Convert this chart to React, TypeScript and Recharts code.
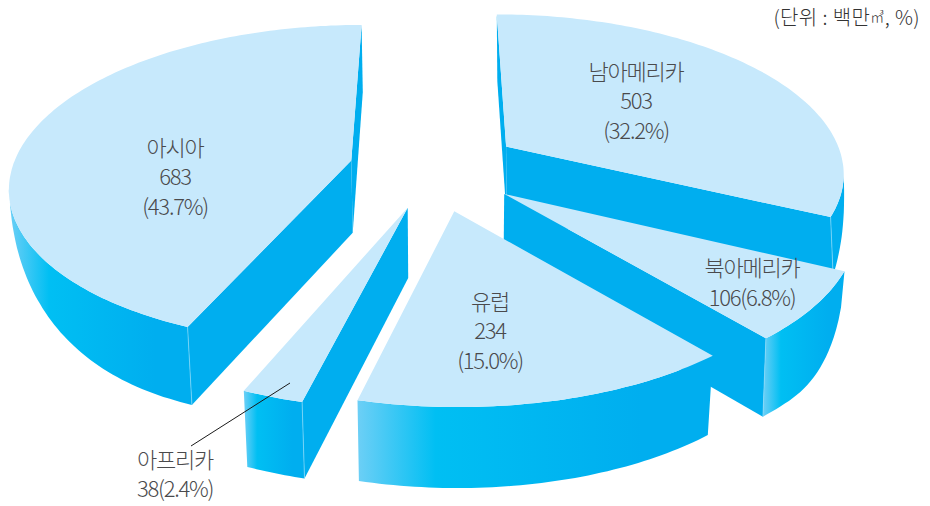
import React from "react";
import { PieChart, Pie } from "recharts";

const regions = ["남아메리카", "북아메리카", "유럽", "아프리카", "아시아"];
const volumes = [503, 106, 234, 38, 683];
const shares = ["32.2", "6.8", "15.0", "2.4", "43.7"];
const labelLines = [
  ["남아메리카", "503", "(32.2%)"],
  ["북아메리카", "106(6.8%)"],
  ["유럽", "234", "(15.0%)"],
  ["아프리카", "38(2.4%)"],
  ["아시아", "683", "(43.7%)"],
];

const data = regions.map((name, i) => ({ name, value: volumes[i], share: shares[i] }));

// text anchor (centre of first line) per slice
const LABEL_AT = [
  [636, 69.5],
  [752, 266],
  [490, 299.5],
  [175, 457.5],
  [175, 145.5],
];

// perspective of the tilted disc
const RADIUS = 339;
const SQUASH = 158 / RADIUS;
const TILT = 0.15;
const DEPTH_TILT = 0.08;

// per-slice tweaks, same order as regions
const EXPLODE = [0.26, 0.26, 0.27, 0.255, 0.24];
const DEPTH = [72.5, 72.5, 73, 69, 72.5];
const SQUEEZE_Y = [1, 1, 0.97, 1, 1];
const SHIFT_X = [0, 0, 0, 3, -2.5];
const BOTTOM_SHRINK = [-0.008, 0.009, 0.018, 0.018, 0.018];
// how far (px) the base curve takes to reach full depth from the outer edge
const TAPER = [65, 57, 0, 0, 180];

const TOP = "#C7E9FC";
const WALL = "#00AEEF";

type Pt = [number, number];

const toPath = (pts: Pt[]) =>
  "M" + pts.map((p) => `${p[0].toFixed(1)},${p[1].toFixed(1)}`).join("L") + "Z";

// eases from 0 at the outer edge to 1 with no corner at the far end
const easeDepth = (t: number) => (t >= 1 ? 1 : Math.pow(1 - Math.pow(1 - t, 3), 0.35));

// one exploded wedge: walls facing the viewer, then the top face
const Wedge = (props: any) => {
  const { cx, cy, outerRadius: r, startAngle, endAngle, index } = props;
  const rad = Math.PI / 180;
  const mid = ((startAngle + endAngle) / 2) * rad;
  const ox = EXPLODE[index] * Math.cos(mid);
  const oy = EXPLODE[index] * Math.sin(mid);
  const shift = SHIFT_X[index];

  const steps = Math.max(12, Math.round(Math.abs(endAngle - startAngle)));
  const plan: Pt[] = [];
  for (let i = 0; i <= steps; i++) {
    const a = (startAngle + ((endAngle - startAngle) * i) / steps) * rad;
    plan.push([ox + Math.cos(a), oy + SQUEEZE_Y[index] * Math.sin(a)]);
  }

  const up = (p: Pt): Pt => {
    const w = 1 + TILT * p[1];
    return [cx + shift + (r * p[0]) / w, cy - (r * SQUASH * p[1]) / w];
  };
  const rimTop = plan.map(up);
  const xs = rimTop.map((p) => p[0]);
  const outerX = Math.cos(mid) > 0 ? Math.max(...xs) : Math.min(...xs);

  const down = (p: Pt): Pt => {
    const [x, y] = up(p);
    const taper = TAPER[index] ? easeDepth(Math.abs(x - outerX) / TAPER[index]) : 1;
    const drop = (DEPTH[index] * taper) / (1 + DEPTH_TILT * p[1]);
    const centre = cx + shift;
    return [centre + (x - centre) * (1 - BOTTOM_SHRINK[index] * taper), y + drop];
  };

  const apex: Pt = [ox, oy];

  // an edge faces the viewer when it runs leftwards on a clockwise outline
  const faces = (a: Pt, b: Pt) => up(b)[0] < up(a)[0];
  const quad = (a: Pt, b: Pt) => toPath([up(a), up(b), down(b), down(a)]);

  const runs: Pt[][] = [];
  let run: Pt[] = [];
  for (let i = 0; i < plan.length - 1; i++) {
    if (faces(plan[i], plan[i + 1])) {
      if (!run.length) run.push(plan[i]);
      run.push(plan[i + 1]);
    } else if (run.length) {
      runs.push(run);
      run = [];
    }
  }
  if (run.length) runs.push(run);

  const first = plan[0];
  const last = plan[plan.length - 1];

  return (
    <g>
      {faces(apex, first) && <path d={quad(apex, first)} fill={WALL} />}
      {faces(last, apex) && <path d={quad(last, apex)} fill={WALL} />}
      {runs.map((seg, i) => (
        <path
          key={i}
          d={toPath([...seg.map(up), ...seg.slice().reverse().map(down)])}
          fill={index === 0 ? WALL : "url(#rimShade)"}
        />
      ))}
      {faces(last, apex) && faces(plan[steps - 1], last) && (
        <line x1={up(last)[0]} y1={up(last)[1]} x2={down(last)[0]} y2={down(last)[1]} stroke="#8ADAF8" strokeWidth={0.7} />
      )}
      {faces(apex, first) && faces(first, plan[1]) && (
        <line x1={up(first)[0]} y1={up(first)[1]} x2={down(first)[0]} y2={down(first)[1]} stroke="#8ADAF8" strokeWidth={0.7} />
      )}
      <path d={toPath([up(apex), ...rimTop])} fill={TOP} />
    </g>
  );
};

const renderLabel = (props: any) => {
  const { index } = props;
  const [x, y] = LABEL_AT[index];
  return (
    <g key={index}>
      {index === 3 && <line x1={290} y1={383} x2={191} y2={446} stroke="#1A1A1A" strokeWidth={1} />}
      <text
        x={x}
        y={y}
        textAnchor="middle"
        dominantBaseline="central"
        fontFamily='"Noto Sans CJK KR", "Noto Sans", sans-serif'
        fontSize={22}
        fontWeight={300}
        letterSpacing={-1.25}
        fill="#4A4A4C"
      >
        {labelLines[index].map((line, i) => (
          <tspan key={i} x={x} y={y + i * 29.5}>
            {line}
          </tspan>
        ))}
      </text>
    </g>
  );
};

export default function App() {
  return (
    <div style={{ position: "absolute", left: 0, top: 0, width: 930, height: 506, background: "#fff" }}>
      <PieChart width={930} height={506} margin={{ top: 0, right: 0, bottom: 0, left: 0 }}>
        <defs>
          <linearGradient id="rimShade" x1="0" y1="0" x2="1" y2="0">
            <stop offset="0" stopColor="#6DCFF6" />
            <stop offset="0.22" stopColor="#00BFF3" />
            <stop offset="0.8" stopColor="#00AEEF" />
          </linearGradient>
        </defs>
        <Pie
          data={data}
          dataKey="value"
          nameKey="name"
          cx={433}
          cy={168}
          innerRadius={0}
          outerRadius={RADIUS}
          startAngle={90}
          endAngle={-270}
          stroke="none"
          shape={Wedge}
          label={renderLabel}
          labelLine={false}
          isAnimationActive={false}
        />
        <text
          x={920}
          y={16}
          textAnchor="end"
          dominantBaseline="central"
          fontFamily='"Noto Sans CJK KR", "Noto Sans", sans-serif'
          fontSize={20}
          fontWeight={300}
          letterSpacing={0.4}
          fill="#333"
        >
          (단위 : 백만<tspan fontSize={14}>㎥</tspan>, %)
        </text>
      </PieChart>
    </div>
  );
}
